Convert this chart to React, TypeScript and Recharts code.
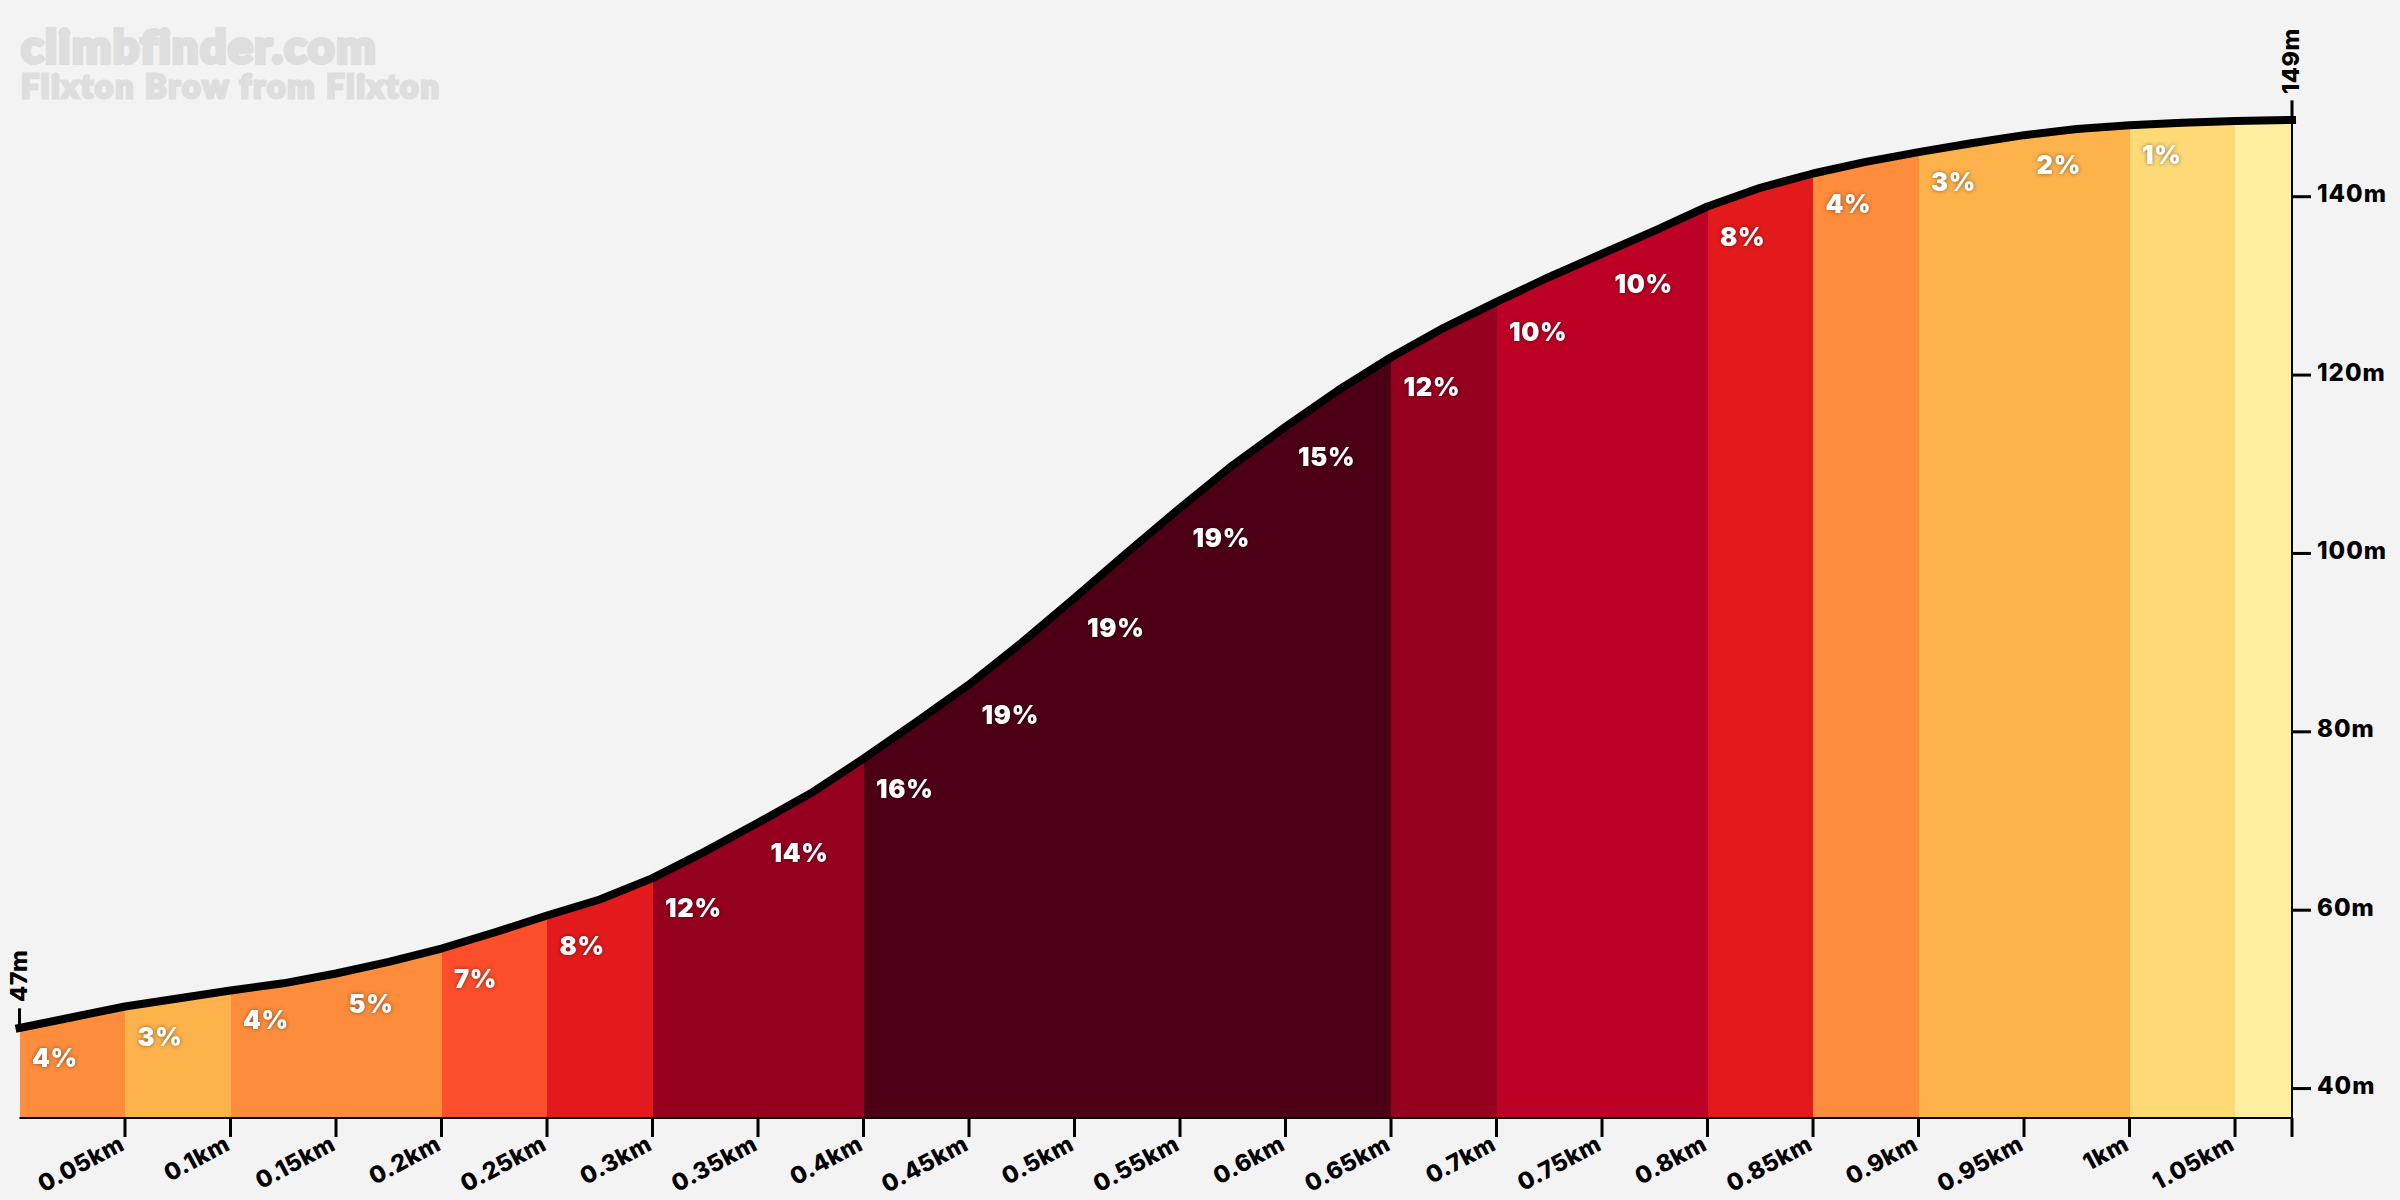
import { Area, ComposedChart, Line, ReferenceLine, XAxis, YAxis } from 'recharts'

const FONT = 'Inter, "DejaVu Sans", sans-serif'

const distances = [
  0, 0.025, 0.05, 0.075, 0.1, 0.125, 0.15, 0.175, 0.2, 0.225, 0.25, 0.275, 0.3, 0.325, 0.35, 0.375, 0.4, 0.425, 0.45,
  0.475, 0.5, 0.525, 0.55, 0.575, 0.6, 0.625, 0.65, 0.675, 0.7, 0.725, 0.75, 0.775, 0.8, 0.825, 0.85, 0.875, 0.9,
  0.925, 0.95, 0.975, 1, 1.025, 1.05, 1.077,
]
const elevations = [
  46.8, 48.0, 49.2, 50.1, 51.0, 51.8, 52.9, 54.2, 55.7, 57.5, 59.4, 61.2, 63.6, 66.6, 69.8, 73.1, 77.0, 81.1, 85.3,
  90.0, 95.0, 100.1, 105.1, 109.9, 114.2, 118.3, 122.0, 125.3, 128.2, 131.0, 133.6, 136.2, 138.9, 141.0, 142.6,
  143.9, 145.0, 146.0, 146.9, 147.6, 148.0, 148.3, 148.5, 148.6,
]
const gradeLabels = [
  '4%', '3%', '4%', '5%', '7%', '8%', '12%', '14%', '16%', '19%', '19%', '19%', '15%', '12%', '10%', '10%', '8%', '4%',
  '3%', '2%', '1%', '',
]
const bandColors = [
  '#fd8d3c', '#feb24c', '#fd8d3c', '#fd8d3c', '#fc4e2a', '#e31a1c', '#95001f', '#95001f', '#4d0015', '#4d0015',
  '#4d0015', '#4d0015', '#4d0015', '#95001f', '#bd0026', '#bd0026', '#e31a1c', '#fd8d3c', '#feb24c', '#feb24c',
  '#fed976', '#ffeda0',
]
const xTicks = [
  0.05, 0.1, 0.15, 0.2, 0.25, 0.3, 0.35, 0.4, 0.45, 0.5, 0.55, 0.6, 0.65, 0.7, 0.75, 0.8, 0.85, 0.9, 0.95, 1, 1.05,
  1.077,
]
const yTicks = [40, 60, 80, 100, 120, 140]
const endLabels = [
  { distance: 0, elevation: 46.8, text: '47m' },
  { distance: 1.077, elevation: 148.6, text: '149m' },
]

const rows = distances.map((distance, i) => ({ distance, elevation: elevations[i] }))
const gradeRows = gradeLabels.map((grade, i) => ({ ...rows[i * 2], grade }))

// neighbouring bands of one colour become one area, so no seam shows between them
const colorRuns: { color: string; from: number; to: number }[] = []
bandColors.forEach((color, i) => {
  const last = colorRuns[colorRuns.length - 1]
  if (last && last.color === color) last.to = i
  else colorRuns.push({ color, from: i, to: i })
})

function DistanceTick({ x, y, payload }: any) {
  if (payload.value > 1.05) return null
  return (
    <text
      transform={`translate(${x + 1},${y + 12}) rotate(-28)`}
      textAnchor="end"
      fill="#000"
      fontFamily={FONT}
      fontSize={23.5}
      fontWeight={800}
      letterSpacing={0.5}
    >
      {payload.value}km
    </text>
  )
}

function GradeDot({ cx, cy, payload }: any) {
  return (
    <text
      x={cx + 12.5}
      y={cy + 39}
      fill="#fff"
      fontFamily={FONT}
      fontSize={25.5}
      fontWeight={900}
      letterSpacing={0.7}
      style={{ filter: 'drop-shadow(0 0 2px rgba(0,0,0,0.45))' }}
    >
      {payload.grade}
    </text>
  )
}

function EndDot({ cx, cy, payload }: any) {
  return (
    <text
      transform={`translate(${cx + 7},${cy - 26}) rotate(-90)`}
      fill="#000"
      fontFamily={FONT}
      fontSize={23.5}
      fontWeight={800}
      letterSpacing={0.5}
    >
      {payload.text}
    </text>
  )
}

export default function App() {
  return (
    <div style={{ position: 'absolute', left: 0, top: 0, width: 2400, height: 1200, background: '#f3f3f3' }}>
      <div
        style={{
          position: 'absolute',
          left: 21,
          top: 22,
          color: '#dedede',
          fontFamily: 'Lato, sans-serif',
          fontWeight: 900,
          lineHeight: 1,
        }}
      >
        <div style={{ fontSize: 46.5, letterSpacing: 1.5, height: 46, WebkitTextStroke: '4px #dedede' }}>
          climbfinder.com
        </div>
        <div style={{ fontSize: 32, letterSpacing: 2.1, marginTop: 2, WebkitTextStroke: '3px #dedede' }}>
          Flixton Brow from Flixton
        </div>
      </div>
      <ComposedChart
        width={2400}
        height={1200}
        data={rows}
        margin={{ top: 120, right: 0, bottom: 0, left: 19.5 }}
        style={{ position: 'absolute', left: 0, top: 0 }}
      >
        <XAxis
          dataKey="distance"
          type="number"
          domain={[0, 1.077]}
          ticks={xTicks}
          interval={0}
          height={82}
          tickSize={19}
          tickMargin={0}
          axisLine={{ stroke: '#000', strokeWidth: 2 }}
          tickLine={{ stroke: '#000', strokeWidth: 3 }}
          tick={<DistanceTick />}
        />
        <YAxis
          orientation="right"
          type="number"
          domain={[36.7, 148.6]}
          ticks={yTicks}
          interval={0}
          width={108}
          tickSize={19}
          tickMargin={6}
          axisLine={{ stroke: '#000', strokeWidth: 2 }}
          tickLine={{ stroke: '#000', strokeWidth: 3 }}
          tickFormatter={(v: number) => `${v}m`}
          tick={{ fill: '#000', fontFamily: FONT, fontSize: 24, fontWeight: 800, letterSpacing: 1, dy: -3 }}
        />
        {colorRuns.map((run) => (
          <Area
            key={run.from}
            data={rows.slice(run.from * 2, run.to * 2 + 3)}
            dataKey="elevation"
            type="linear"
            fill={run.color}
            fillOpacity={1}
            stroke="none"
            shapeRendering="crispEdges"
            dot={false}
            activeDot={false}
            isAnimationActive={false}
          />
        ))}
        <ReferenceLine
          segment={[{ x: 0, y: 46.8 }, { x: 0, y: 49 }]}
          stroke="#000"
          strokeWidth={3}
          ifOverflow="visible"
        />
        <ReferenceLine
          segment={[{ x: 1.077, y: 148.6 }, { x: 1.077, y: 150.8 }]}
          stroke="#000"
          strokeWidth={3}
          ifOverflow="visible"
        />
        <Line
          dataKey="elevation"
          type="linear"
          stroke="#000"
          strokeWidth={8}
          strokeLinecap="square"
          strokeLinejoin="round"
          dot={false}
          activeDot={false}
          isAnimationActive={false}
        />
        <Line
          data={gradeRows}
          dataKey="elevation"
          type="linear"
          stroke="none"
          dot={(props: any) => <GradeDot key={props.index} {...props} />}
          activeDot={false}
          isAnimationActive={false}
        />
        <Line
          data={endLabels}
          dataKey="elevation"
          type="linear"
          stroke="none"
          dot={(props: any) => <EndDot key={props.index} {...props} />}
          activeDot={false}
          isAnimationActive={false}
        />
      </ComposedChart>
    </div>
  )
}
